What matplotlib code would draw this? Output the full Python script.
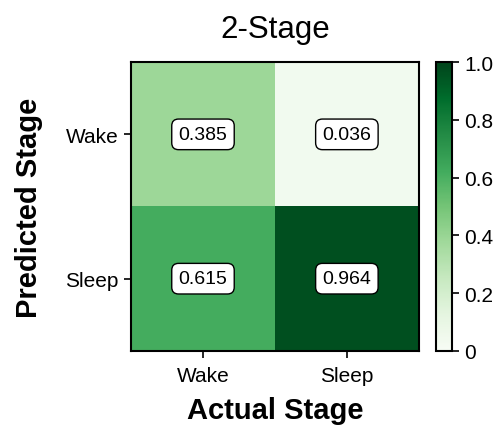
import numpy as np
import matplotlib
matplotlib.use("Agg")
import matplotlib.pyplot as plt

plt.rcParams['font.family'] = ['Liberation Sans', 'DejaVu Sans']

actual = ["Wake", "Sleep"]
predicted = ["Wake", "Sleep"]
values = np.array([[0.385, 0.036],
                   [0.615, 0.964]])
cbar_ticks = [0, 0.2, 0.4, 0.6, 0.8, 1.0]
cbar_labels = ["0", "0.2", "0.4", "0.6", "0.8", "1.0"]

fig = plt.figure(figsize=(5.04, 4.27), dpi=100)
ax = fig.add_axes([0.26, 0.176, 0.571, 0.676])
cax = fig.add_axes([0.865, 0.176, 0.032, 0.676])

im = ax.imshow(values, cmap="Greens", vmin=0, vmax=1, aspect="auto")
for i in range(values.shape[0]):
    for j in range(values.shape[1]):
        ax.text(j, i, f"{values[i, j]:.3f}", ha="center", va="center", fontsize=14,
                bbox=dict(boxstyle="round,pad=0.35", fc="white", ec="black", lw=1))

ax.set_xticks(range(len(actual)))
ax.set_xticklabels(actual, fontsize=15)
ax.set_yticks(range(len(predicted)))
ax.set_yticklabels(predicted, fontsize=15)
ax.tick_params(length=5, width=1.2, pad=4)
ax.tick_params(axis="x", pad=6)
for s in ax.spines.values():
    s.set_linewidth(1.5)
ax.set_xlabel("Actual Stage", fontsize=21, fontweight="bold", labelpad=8)
ax.set_ylabel("Predicted Stage", fontsize=21, fontweight="bold", labelpad=16)
ax.set_title("2-Stage", fontsize=22.5, pad=18)

cb = fig.colorbar(im, cax=cax)
cb.set_ticks(cbar_ticks)
cb.set_ticklabels(cbar_labels)
cb.ax.tick_params(labelsize=15, length=5, width=1.2)
cb.outline.set_linewidth(1.5)

fig.savefig("out.png", dpi=100)
